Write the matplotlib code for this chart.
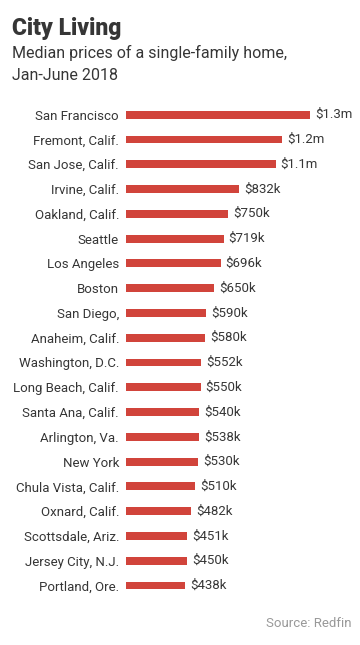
"""Median single-family home prices by city, Jan-June 2018."""

import matplotlib
matplotlib.use('Agg')
from matplotlib import pyplot as plot

# data
cities = ['San Francisco', 'Fremont, Calif.', 'San Jose, Calif.', 'Irvine, Calif.',
          'Oakland, Calif.', 'Seattle', 'Los Angeles', 'Boston', 'San Diego,',
          'Anaheim, Calif.', 'Washington, D.C.', 'Long Beach, Calif.', 'Santa Ana, Calif.',
          'Arlington, Va.', 'New York', 'Chula Vista, Calif.', 'Oxnard, Calif.',
          'Scottsdale, Ariz.', 'Jersey City, N.J.', 'Portland, Ore.']
prices = [1355, 1150, 1100, 832, 750, 719, 696, 650, 590, 580,
          552, 550, 540, 538, 530, 510, 482, 451, 450, 438]  # thousands of dollars
price_labels = ['$1.3m', '$1.2m', '$1.1m', '$832k', '$750k', '$719k', '$696k', '$650k',
                '$590k', '$580k', '$552k', '$550k', '$540k', '$538k', '$530k', '$510k',
                '$482k', '$451k', '$450k', '$438k']

BAR_COLOR = '#d1443b'
TEXT_COLOR = '#363636'

plot.rcParams['font.family'] = ['Roboto', 'DejaVu Sans']

figure = plot.figure(figsize=(3.6, 6.45), dpi=100)
figure.set_facecolor('white')
ax = figure.add_axes([125.7 / 360, 1 - 597.9 / 645, 200 / 360, 495.6 / 645])

rows = range(len(cities))
ax.barh(rows, prices, height=0.32, color=BAR_COLOR, zorder=2)
for row, value, text in zip(rows, prices, price_labels):
    ax.annotate(text, (value, row), xytext=(3.6, 0), textcoords='offset points',
                ha='left', va='center', fontsize=9.5, color=TEXT_COLOR)

ax.set_xlim(0, 1467)
ax.set_ylim(len(cities) - 0.5, -0.5)
ax.set_yticks(list(rows), cities)
ax.set_xticks([])
ax.tick_params(axis='y', length=0, pad=4.8, labelsize=9.5, labelcolor=TEXT_COLOR)
for side in 'top', 'bottom', 'left', 'right':
    ax.spines[side].set_visible(False)

figure.text(12 / 360, 1 - 35 / 645, 'City Living', fontsize=16.5, fontweight='black',
            color=TEXT_COLOR, ha='left', va='baseline')
figure.text(12 / 360, 1 - 58 / 645, 'Median prices of a single-family home,', fontsize=11.5,
            color=TEXT_COLOR, ha='left', va='baseline')
figure.text(12 / 360, 1 - 80 / 645, 'Jan-June 2018', fontsize=11.5,
            color=TEXT_COLOR, ha='left', va='baseline')
figure.text(352 / 360, 1 - 627 / 645, 'Source: Redfin', fontsize=9.5, color='#999999',
            ha='right', va='baseline')

figure.savefig('out.png', dpi=100, facecolor='white')
